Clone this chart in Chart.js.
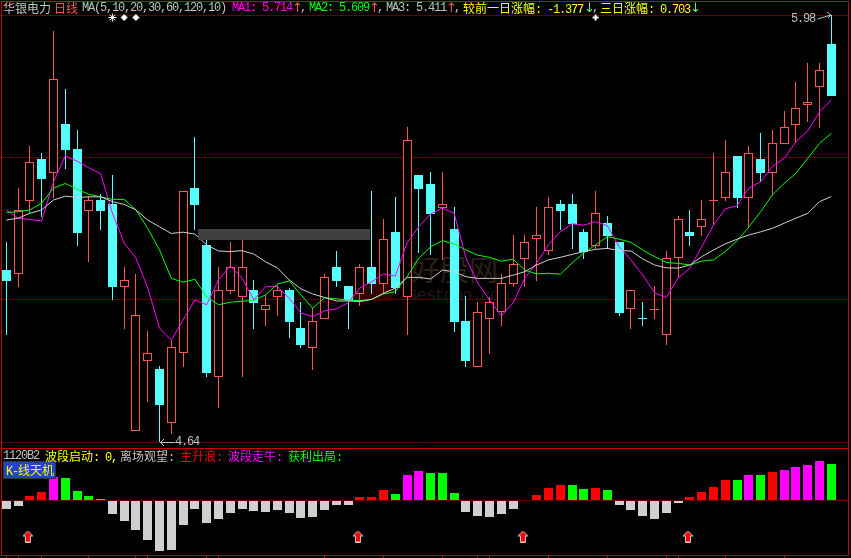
<!DOCTYPE html>
<html>
<head>
<meta charset="utf-8">
<title>华银电力 日线</title>
<script src="https://cdn.jsdelivr.net/npm/chart.js@4/dist/chart.umd.min.js"></script>
<style>
  html, body { margin: 0; background: #000; }
  #wrap { position: relative; width: 851px; height: 558px; overflow: hidden; background: #000; }
  #chart { position: absolute; left: 0; top: 0; z-index: 1; }
  .t { position: absolute; z-index: 3; white-space: pre; font: 12px/14px "Liberation Mono", monospace; letter-spacing: -1.2px; }
  .t b { font: 12px/14px "Noto Sans CJK SC", sans-serif; letter-spacing: 0; }
  .a { position: absolute; z-index: 3; font: 13px/14px "DejaVu Sans", sans-serif; }
  .box { position: absolute; z-index: 2; box-sizing: border-box; }
  .wm { position: absolute; z-index: 0; white-space: pre; }
  svg { position: absolute; left: 0; top: 0; z-index: 3; }
</style>
</head>
<body>
<div id="wrap">
  <!-- watermark sits behind the chart -->
  <div class="wm" style="left:348px;top:265px;width:47px;height:36px;background:#340000;clip-path:polygon(0 100%,28% 38%,42% 60%,72% 0,100% 42%,94% 100%)"></div>
  <div class="wm" style="left:411px;top:251px;font:29px/34px 'Noto Sans CJK SC';color:#2c2018">好股网</div>
  <div class="wm" style="left:407px;top:286px;font:17px/20px 'Liberation Mono';color:#261416;letter-spacing:-1px">Bestgoo.com</div>

  <canvas id="chart" width="851" height="558"></canvas>

  <!-- panel frames and the masked strip -->
  <div class="box" style="left:1px;top:1px;width:848px;height:448px;border:1px solid #c80000"></div>
  <div class="box" style="left:1px;top:448px;width:848px;height:108px;border:1px solid #c80000;border-top:0"></div>
  <div class="box" style="left:198px;top:229px;width:172px;height:11px;background:#404040"></div>
  <div class="box" style="left:3px;top:461px;width:53px;height:18px;background:#2244cc;border:1px solid #333"></div>

  <!-- header line -->
  <span class="t" style="left:3px;top:1px;color:#c0c0c0"><b>华银电力</b></span>
  <span class="t" style="left:54px;top:1px;color:#ff5555"><b>日线</b></span>
  <span class="t" style="left:82px;top:1px;color:#c0c0c0">MA(5,10,20,30,60,120,10)</span>
  <span class="t" style="left:232px;top:1px;color:#ff00ff">MA1: 5.714</span>
  <span class="a" style="left:292px;top:1px;color:#ff5555">↑</span>
  <span class="t" style="left:300px;top:1px;color:#c0c0c0">,</span>
  <span class="t" style="left:309px;top:1px;color:#00ff00">MA2: 5.609</span>
  <span class="a" style="left:369px;top:1px;color:#ff5555">↑</span>
  <span class="t" style="left:377px;top:1px;color:#c0c0c0">,</span>
  <span class="t" style="left:386px;top:1px;color:#c0c0c0">MA3: 5.411</span>
  <span class="a" style="left:446px;top:1px;color:#ff5555">↑</span>
  <span class="t" style="left:454px;top:1px;color:#c0c0c0">,</span>
  <span class="t" style="left:463px;top:1px;color:#ffff00"><b>较前一日涨幅</b>: -1.377</span>
  <span class="a" style="left:584px;top:1px;color:#55ff55">↓</span>
  <span class="t" style="left:592px;top:1px;color:#c0c0c0">,</span>
  <span class="t" style="left:600px;top:1px;color:#ffff00"><b>三日涨幅</b>: 0.703</span>
  <span class="a" style="left:690px;top:1px;color:#55ff55">↓</span>

  <!-- high and low labels -->
  <span class="t" style="left:791px;top:12px;color:#c0c0c0">5.98</span>
  <span class="t" style="left:175px;top:435px;color:#c0c0c0">4.64</span>
  <svg width="851" height="558" fill="none" stroke="#c0c0c0">
    <path d="M817.5 19 L831 15 M827 12 L831 15 L828 18"/>
    <path d="M160.5 442.5 H175 M164 439 L160.5 442.5 L164 446"/>
  </svg>

  <!-- indicator header -->
  <span class="t" style="left:3px;top:449px;color:#c0c0c0">1120B2</span>
  <span class="t" style="left:45px;top:449px;color:#ffff00"><b>波段启动</b>: 0,</span>
  <span class="t" style="left:120px;top:449px;color:#c0c0c0"><b>离场观望</b>:</span>
  <span class="t" style="left:180px;top:449px;color:#ff0000"><b>主升浪</b>:</span>
  <span class="t" style="left:228px;top:449px;color:#ff00ff"><b>波段走牛</b>:</span>
  <span class="t" style="left:288px;top:449px;color:#00ff00"><b>获利出局</b>:</span>
  <span class="t" style="left:6px;top:463px;color:#ffff00">K-<b>线天机</b></span>
</div>

<script>
// K-line, one entry per trading day
const opens = [5.180,5.167,5.398,5.529,5.486,5.639,5.560,5.366,5.400,5.387,5.128,4.676,4.895,4.869,4.699,4.919,5.438,5.259,4.845,5.115,5.096,5.117,5.055,5.095,
  5.117,4.998,4.936,5.027,5.190,5.130,5.105,5.190,5.136,5.300,5.095,5.478,5.450,5.375,5.309,5.020,4.877,5.027,5.047,5.137,5.216,5.277,5.239,5.387,
  5.387,5.300,5.257,5.328,5.268,5.057,5.029,5.055,4.977,5.217,5.300,5.316,5.397,5.407,5.538,5.407,5.529,5.486,5.577,5.636,5.697,5.756,5.890];
const closes = [5.146,5.369,5.518,5.466,5.779,5.557,5.296,5.400,5.365,5.127,5.149,5.038,4.919,4.756,4.937,5.428,5.385,4.857,5.117,5.190,5.190,5.077,5.070,5.117,
  5.017,4.945,5.019,5.157,5.146,5.086,5.190,5.136,5.278,5.124,5.587,5.435,5.356,5.386,5.017,4.894,5.047,5.079,5.138,5.198,5.267,5.289,5.377,5.365,
  5.325,5.237,5.358,5.287,5.045,5.116,5.026,5.058,5.217,5.339,5.287,5.339,5.400,5.487,5.406,5.547,5.485,5.578,5.628,5.688,5.707,5.807,5.727];
const highs = [5.268,5.438,5.570,5.548,5.931,5.749,5.620,5.413,5.419,5.478,5.190,5.168,4.989,4.879,4.960,5.428,5.598,5.274,5.190,5.268,5.274,5.149,5.102,5.133,
  5.124,5.080,5.061,5.168,5.240,5.130,5.199,5.428,5.340,5.409,5.629,5.478,5.488,5.488,5.378,5.099,5.080,5.095,5.168,5.290,5.290,5.378,5.409,5.400,
  5.419,5.309,5.428,5.350,5.268,5.117,5.080,5.130,5.240,5.350,5.369,5.400,5.547,5.588,5.538,5.570,5.610,5.620,5.679,5.771,5.830,5.830,5.980];
const lows = [4.977,5.128,5.359,5.348,5.407,5.497,5.256,5.205,5.306,5.086,4.995,4.676,4.766,4.640,4.665,4.877,5.306,4.844,4.747,5.105,4.844,4.995,5.004,5.036,
  4.967,4.935,4.866,5.027,5.127,4.995,5.067,5.105,5.105,5.105,4.976,5.234,5.227,5.212,4.986,4.876,4.877,4.916,5.004,5.127,5.127,5.146,5.227,5.306,
  5.246,5.215,5.246,5.246,5.036,4.995,5.004,5.026,4.945,5.155,5.256,5.287,5.321,5.397,5.375,5.312,5.457,5.416,5.577,5.579,5.645,5.626,5.727];

// moving averages
const ma1 = [5.369,5.343,5.339,5.334,5.457,5.538,5.522,5.501,5.483,5.359,5.265,5.218,5.124,4.998,4.960,5.023,5.086,5.071,5.149,5.193,5.155,5.086,5.128,5.128,
  5.092,5.045,5.034,5.052,5.058,5.077,5.124,5.143,5.168,5.161,5.265,5.316,5.356,5.375,5.358,5.218,5.139,5.086,5.036,5.077,5.155,5.202,5.259,5.300,
  5.325,5.321,5.332,5.319,5.253,5.212,5.164,5.109,5.094,5.155,5.186,5.253,5.321,5.372,5.382,5.437,5.457,5.505,5.531,5.583,5.617,5.677,5.714];
const ma2 = [5.361,5.363,5.369,5.390,5.437,5.452,5.434,5.418,5.410,5.402,5.402,5.369,5.311,5.243,5.154,5.142,5.151,5.096,5.071,5.079,5.082,5.085,5.102,5.136,
  5.146,5.102,5.060,5.093,5.090,5.085,5.084,5.088,5.105,5.112,5.159,5.217,5.253,5.272,5.262,5.243,5.227,5.220,5.208,5.214,5.180,5.168,5.170,5.167,
  5.202,5.234,5.259,5.285,5.277,5.267,5.243,5.222,5.204,5.201,5.196,5.208,5.212,5.238,5.272,5.315,5.363,5.416,5.452,5.484,5.531,5.578,5.609];
const ma3 = [5.337,5.343,5.358,5.369,5.400,5.412,5.408,5.410,5.410,5.395,5.386,5.369,5.337,5.316,5.295,5.299,5.293,5.259,5.240,5.238,5.241,5.230,5.206,5.187,
  5.149,5.121,5.105,5.094,5.083,5.083,5.081,5.088,5.107,5.123,5.157,5.157,5.152,5.180,5.175,5.159,5.154,5.154,5.154,5.164,5.175,5.196,5.212,5.220,
  5.229,5.238,5.245,5.248,5.241,5.240,5.215,5.196,5.187,5.186,5.196,5.222,5.243,5.262,5.277,5.290,5.300,5.311,5.327,5.343,5.358,5.395,5.411];

// lower panel bars and their state
const signal = [-8,-5,5,9,24,23,10,5,2,-13,-20,-29,-39,-50,-49,-24,-8,-22,-18,-12,-8,-10,-11,-9,
  -12,-17,-16,-9,-4,-4,3,4,11,7,26,30,28,27,8,-11,-15,-16,-13,-8,1,6,13,16,
  16,12,13,11,-4,-9,-15,-18,-12,-2,4,9,14,21,21,26,26,29,31,34,36,39,37];
const signalState = ["wait","wait","rise","rise","bull","exit","exit","exit","exit","wait","wait","wait","wait","wait","wait","wait","wait","wait","wait","wait","wait","wait","wait","wait",
  "wait","wait","wait","wait","wait","wait","rise","rise","rise","exit","bull","bull","exit","exit","exit","wait","wait","wait","wait","wait","rise","rise","rise","rise",
  "exit","exit","rise","exit","wait","wait","wait","wait","wait","wait","rise","rise","rise","rise","exit","bull","exit","rise","bull","bull","bull","bull","exit"];

// day positions of the small marks
const arrowDays = [2, 30, 44, 58];
const starDays = [9];
const diamondDays = [10, 11];
const crossDays = [50];
const monthTickDays = [0,1,3,7,11,12,17,18,27,32,37,40,41,46,51,56,57,61,66];

const priceTicks = [5.98, 5.533, 5.087, 4.64];
const stateColors = { wait: "#cfcfcf", rise: "#ff0000", bull: "#ff00ff", exit: "#00ff00" };

const upColor = "#ff5555";
const downColor = "#55ffff";

// one spare slot to the right of the last candle
const days = Array.from({ length: opens.length + 1 }, (_, i) => String(i + 1));

function candleColor(i) {
    return closes[i] >= opens[i] ? upColor : downColor;
}

function markSeries(list, value) {
    return days.map((_, i) => (list.includes(i) ? value : null));
}

// red arrow with a light edge, drawn once and used as a point image
function makeArrow() {
    const c = document.createElement("canvas");
    c.width = 14;
    c.height = 12;
    const g = c.getContext("2d");
    g.beginPath();
    g.moveTo(5, 0.5);
    g.lineTo(10, 5.5);
    g.lineTo(7.5, 5.5);
    g.lineTo(7.5, 11.5);
    g.lineTo(2.5, 11.5);
    g.lineTo(2.5, 5.5);
    g.lineTo(0, 5.5);
    g.closePath();
    g.fillStyle = "#ff0000";
    g.fill();
    g.strokeStyle = "#d0d0d0";
    g.stroke();
    return c;
}

function lineSet(data, color) {
    return { type: "line", data, yAxisID: "y", borderColor: color, borderWidth: 1, pointRadius: 0, tension: 0, order: 2, spanGaps: false };
}

function markSet(list, style, radius, axis, value) {
    return {
        type: "line", data: markSeries(list, value), yAxisID: axis, showLine: false, order: 1,
        pointStyle: style, pointRadius: radius, borderWidth: style === "cross" ? 2 : 1,
        borderColor: "#ffffff", backgroundColor: "#ffffff"
    };
}

// snap bars to whole pixels, the original is a bitmap chart
const snapBars = {
    id: "snapBars",
    afterDatasetsUpdate(chart) {
        chart.data.datasets.forEach((ds, n) => {
            if (ds.type !== "bar") return;
            chart.getDatasetMeta(n).data.forEach(el => {
                el.x = Math.floor(el.x) + 0.5;
                el.y = Math.round(el.y);
                el.base = Math.round(el.base);
            });
        });
    }
};

new Chart(document.getElementById("chart"), {
    data: {
        labels: days,
        datasets: [
            {
                type: "bar", yAxisID: "y", grouped: false, order: 5, barThickness: 1, inflateAmount: 0,
                data: lows.map((l, i) => [l, highs[i]]),
                backgroundColor: lows.map((_, i) => candleColor(i)), borderWidth: 0
            },
            {
                type: "bar", yAxisID: "y", grouped: false, order: 4, barThickness: 9, inflateAmount: 0,
                data: opens.map((o, i) => [o, closes[i]]),
                backgroundColor: opens.map((_, i) => (closes[i] >= opens[i] ? "#000000" : downColor)),
                borderColor: opens.map((_, i) => candleColor(i)), borderWidth: 1, borderSkipped: false
            },
            {
                type: "bar", yAxisID: "ind", grouped: false, order: 3, barThickness: 9, inflateAmount: 0,
                data: signal,
                backgroundColor: signalState.map(s => stateColors[s]), borderWidth: 0
            },
            lineSet(ma3, "#d0d0d0"),
            lineSet(ma2, "#00ff00"),
            lineSet(ma1, "#ff00ff"),
            markSet(starDays, "star", 4, "y", 5.973),
            markSet(diamondDays, "rectRot", 3, "y", 5.973),
            markSet(crossDays, "cross", 3, "y", 5.973),
            {
                type: "line", yAxisID: "ind", showLine: false, order: 1,
                data: markSeries(arrowDays, -36),
                pointStyle: makeArrow(), pointRadius: 6
            }
        ]
    },
    options: {
        responsive: false,
        animation: false,
        events: [],
        layout: { autoPadding: false, padding: { left: 0.4, right: 2, top: 0, bottom: 0 } },
        plugins: { legend: { display: false }, tooltip: { enabled: false } },
        scales: {
            x: {
                type: "category",
                offset: true,
                ticks: { display: false, autoSkip: false },
                border: { display: false },
                grid: { offset: false, drawOnChartArea: false, drawTicks: true, tickLength: 3, color: "#c80000" },
                afterBuildTicks: scale => { scale.ticks = monthTickDays.map(v => ({ value: v })); }
            },
            y: {
                position: "left",
                min: 4.2853,
                max: 6.028,
                ticks: { display: false },
                border: { display: false },
                grid: { color: "#600000", drawTicks: false },
                afterBuildTicks: scale => { scale.ticks = priceTicks.map(v => ({ value: v })); }
            },
            ind: {
                position: "right",
                min: -54.5,
                max: 500.5,
                ticks: { display: false },
                border: { display: false },
                grid: { color: "#600000", drawTicks: false },
                afterBuildTicks: scale => { scale.ticks = [{ value: 0 }]; }
            }
        }
    },
    plugins: [snapBars]
});
</script>
</body>
</html>
